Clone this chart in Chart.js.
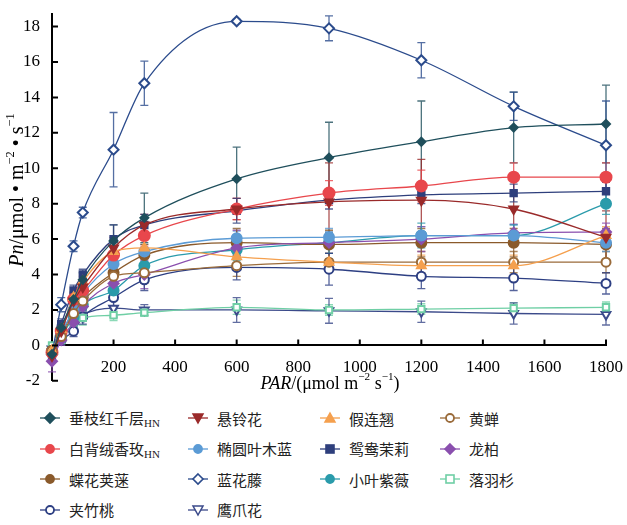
<!DOCTYPE html>
<html>
<head>
<meta charset="utf-8">
<script src="https://cdn.jsdelivr.net/npm/chart.js@4.4.0/dist/chart.umd.min.js"></script>
<style>
  body { margin: 0; background: #fff; width: 627px; height: 525px; overflow: hidden; position: relative; }
  #wrap { position: absolute; left: 0; top: 0; width: 627px; height: 395px; }
  #legend { position: absolute; left: 0; top: 403px; width: 627px; height: 122px; }
  .item { position: absolute; display: flex; align-items: center; height: 30px; font-size: 15px; color: #222; font-family: "Noto Sans CJK SC"; white-space: nowrap; }
  .item svg { margin-right: 9px; }
  .item sub { font-family: "Liberation Serif"; font-size: 11px; vertical-align: -3px; }
</style>
</head>
<body>
<div id="wrap"><canvas id="chart"></canvas></div>
<div id="legend"></div>
<script>
// PAR levels (x)
const par = [0, 30, 70, 100, 200, 300, 600, 900, 1200, 1500, 1800];
const yTicks = [-2, 0, 2, 4, 6, 8, 10, 12, 14, 16, 18];
const xTicks = [200, 400, 600, 800, 1000, 1200, 1400, 1600, 1800];

// Pn values and error bars per species
const chuizhi = [-0.5, 1.0, 2.6, 3.7, 5.9, 7.2, 9.4, 10.6, 11.5, 12.3, 12.5];
const chuizhiErr = [0.2, 0.3, 0.4, 0.4, 0.9, 1.4, 1.8, 2.0, 2.3, 2.0, 2.2];
const baibei = [-0.4, 0.8, 2.6, 3.1, 5.1, 6.2, 7.7, 8.6, 9.0, 9.5, 9.5];
const baibeiErr = [0.2, 0.3, 0.3, 0.4, 0.5, 0.6, 0.6, 0.7, 0.9, 0.8, 0.8];
const diehua = [-0.3, 0.6, 2.0, 2.7, 4.1, 5.1, 5.8, 5.7, 5.8, 5.8, 5.7];
const diehuaErr = [0.2, 0.3, 0.3, 0.3, 0.5, 0.6, 0.8, 0.8, 0.8, 0.8, 0.9];
const jiazhu = [-0.3, 0.3, 0.8, 1.6, 2.7, 3.7, 4.4, 4.3, 3.9, 3.8, 3.5];
const jiazhuErr = [0.2, 0.2, 0.3, 0.4, 0.6, 0.6, 0.7, 0.9, 0.7, 0.7, 0.6];
const xuanling = [-0.6, 0.8, 2.5, 3.3, 5.5, 6.8, 7.7, 8.1, 8.2, 7.7, 6.1];
const xuanlingErr = [0.3, 0.3, 0.4, 0.4, 0.6, 0.6, 0.6, 2.2, 2.3, 2.0, 1.5];
const tuoyuan = [-0.4, 0.7, 2.0, 2.9, 4.6, 5.3, 6.05, 6.1, 6.2, 6.2, 5.8];
const tuoyuanErr = [0.2, 0.2, 0.3, 0.3, 0.4, 0.4, 0.4, 0.5, 0.5, 0.6, 0.5];
const lanhua = [-0.5, 2.3, 5.6, 7.5, 11.05, 14.8, 18.3, 17.9, 16.1, 13.5, 11.3];
const lanhuaErr = [0.3, 0.4, 0.3, 0.3, 2.1, 1.25, 0.1, 0.7, 1.0, 0.8, 2.5];
const yingzhua = [-0.2, 0.4, 1.2, 1.7, 2.1, 2.0, 2.0, 1.95, 1.9, 1.8, 1.75];
const yingzhuaErr = [0.2, 0.2, 0.3, 0.3, 0.5, 0.3, 0.7, 0.7, 0.6, 0.6, 0.6];
const jialian = [-0.3, 0.9, 2.7, 3.6, 5.3, 5.5, 5.0, 4.7, 4.5, 4.5, 6.2];
const jialianErr = [0.2, 0.3, 0.3, 0.3, 0.5, 0.5, 0.5, 0.5, 0.6, 0.6, 0.5];
const yuanyang = [-0.5, 1.2, 3.1, 4.0, 6.0, 6.8, 7.6, 8.2, 8.5, 8.6, 8.7];
const yuanyangErr = [0.2, 0.3, 0.3, 0.3, 0.8, 0.6, 0.7, 0.5, 0.5, 0.5, 0.5];
const xiaoye = [-0.3, 0.5, 1.6, 2.3, 3.1, 4.5, 5.4, 5.8, 6.2, 6.2, 8.0];
const xiaoyeErr = [0.2, 0.2, 0.3, 0.3, 0.5, 0.5, 0.6, 0.6, 0.7, 0.6, 0.6];
const huangchan = [-0.3, 0.5, 1.8, 2.5, 3.9, 4.1, 4.5, 4.7, 4.7, 4.7, 4.7];
const huangchanErr = [0.2, 0.2, 0.3, 0.3, 0.5, 0.6, 0.6, 0.5, 0.6, 0.6, 0.6];
const longbai = [-0.9, 0.3, 1.3, 2.2, 3.5, 4.0, 5.5, 5.8, 6.0, 6.35, 6.4];
const longbaiErr = [0.6, 0.3, 0.3, 0.3, 0.5, 0.8, 1.0, 0.6, 0.7, 0.5, 0.5];
const luoyu = [0, 0.3, 1.3, 1.55, 1.7, 1.85, 2.15, 2.0, 2.05, 2.1, 2.15];
const luoyuErr = [0.1, 0.2, 0.3, 0.4, 0.3, 0.2, 0.4, 0.3, 0.3, 0.3, 0.3];

// legend order is row by row (4 columns)
const series = [
  { name: "垂枝红千层", sub: "HN", values: chuizhi, err: chuizhiErr, color: "#1f4f5c", shape: "diamond", r: 4, fill: true },
  { name: "悬铃花", values: xuanling, err: xuanlingErr, color: "#9a2a2a", shape: "down", r: 5, fill: true },
  { name: "假连翘", values: jialian, err: jialianErr, color: "#f5a04e", shape: "up", r: 5, fill: true },
  { name: "黄蝉", values: huangchan, err: huangchanErr, color: "#9a6b3a", shape: "circle", r: 4.5, fill: false },
  { name: "白背绒香玫", sub: "HN", values: baibei, err: baibeiErr, color: "#e8474c", shape: "circle", r: 5.5, fill: true },
  { name: "椭圆叶木蓝", values: tuoyuan, err: tuoyuanErr, color: "#5b9bd5", shape: "circle", r: 5, fill: true },
  { name: "鸳鸯茉莉", values: yuanyang, err: yuanyangErr, color: "#2e3f7c", shape: "square", r: 4.5, fill: true },
  { name: "龙柏", values: longbai, err: longbaiErr, color: "#8a4fae", shape: "diamond", r: 5, fill: true },
  { name: "蝶花荚蒾", values: diehua, err: diehuaErr, color: "#8a5a2b", shape: "circle", r: 5, fill: true },
  { name: "蓝花藤", values: lanhua, err: lanhuaErr, color: "#2b4b8c", shape: "diamond", r: 5, fill: false },
  { name: "小叶紫薇", values: xiaoye, err: xiaoyeErr, color: "#2a9bab", shape: "circle", r: 5, fill: true },
  { name: "落羽杉", values: luoyu, err: luoyuErr, color: "#6fcfa5", shape: "square", r: 4.5, fill: false },
  { name: "夹竹桃", values: jiazhu, err: jiazhuErr, color: "#2d3f83", shape: "circle", r: 4.5, fill: false },
  { name: "鹰爪花", values: yingzhua, err: yingzhuaErr, color: "#3b4a8a", shape: "down", r: 5, fill: false }
];

const styleMap = { circle: "circle", diamond: "rectRot", up: "triangle", down: "triangle", square: "rect" };

const datasets = series.map((s) => ({
  label: s.name,
  data: par.map((x, i) => ({ x: x, y: s.values[i] })),
  errors: s.err,
  borderColor: s.color,
  borderWidth: 1.3,
  cubicInterpolationMode: "monotone",
  pointStyle: styleMap[s.shape],
  rotation: s.shape === "down" ? 180 : 0,
  pointRadius: s.r,
  pointBackgroundColor: s.fill ? s.color : "#fff",
  pointBorderColor: s.color,
  pointBorderWidth: 2,
  clip: false
}));

// error bars, drawn under the markers
const errorBars = {
  id: "errorBars",
  beforeDatasetsDraw(chart) {
    const ctx = chart.ctx;
    const xs = chart.scales.x, ys = chart.scales.y;
    ctx.save();
    chart.data.datasets.forEach((ds) => {
      ctx.strokeStyle = ds.borderColor;
      ctx.globalAlpha = 0.8;
      ctx.lineWidth = 1.3;
      ds.data.forEach((p, i) => {
        const e = ds.errors[i];
        const px = xs.getPixelForValue(p.x);
        const top = ys.getPixelForValue(p.y + e);
        const bot = ys.getPixelForValue(p.y - e);
        ctx.beginPath();
        ctx.moveTo(px, top); ctx.lineTo(px, bot);
        ctx.moveTo(px - 4, top); ctx.lineTo(px + 4, top);
        ctx.moveTo(px - 4, bot); ctx.lineTo(px + 4, bot);
        ctx.stroke();
      });
    });
    ctx.restore();
  }
};

function drawRich(ctx, parts, cx, cy, size) {
  let total = 0;
  const segs = parts.map((p) => {
    const s = p.sup ? size * 0.62 : size;
    const font = (p.it ? "italic " : "") + s + 'px "Liberation Serif"';
    ctx.font = font;
    const w = ctx.measureText(p.t).width;
    total += w;
    return { p: p, font: font, w: w };
  });
  let x = cx - total / 2;
  segs.forEach((s) => {
    ctx.font = s.font;
    ctx.fillText(s.p.t, x, cy + (s.p.sup ? -size * 0.38 : 0));
    x += s.w;
  });
}

// inner tick marks and axis titles
const axisExtras = {
  id: "axisExtras",
  afterDraw(chart) {
    const ctx = chart.ctx;
    const xs = chart.scales.x, ys = chart.scales.y;
    const left = chart.chartArea.left;
    const y0 = ys.getPixelForValue(0);
    ctx.save();
    ctx.strokeStyle = "#000";
    ctx.lineWidth = 2;
    ctx.beginPath();
    yTicks.forEach((v) => {
      const py = ys.getPixelForValue(v);
      ctx.moveTo(left, py); ctx.lineTo(left + 6, py);
    });
    xTicks.forEach((v) => {
      const px = xs.getPixelForValue(v);
      ctx.moveTo(px, y0); ctx.lineTo(px, y0 - 6);
    });
    ctx.stroke();

    ctx.fillStyle = "#000";
    ctx.textBaseline = "middle";
    drawRich(ctx, [
      { t: "PAR", it: true }, { t: "/(μmol m" }, { t: "−2", sup: true },
      { t: " s" }, { t: "−1", sup: true }, { t: ")" }
    ], 330, 384, 18);

    ctx.translate(18, 190);
    ctx.rotate(-Math.PI / 2);
    drawRich(ctx, [
      { t: "Pn", it: true }, { t: "/μmol • m" }, { t: "−2", sup: true },
      { t: " • s" }, { t: "−1", sup: true }
    ], 0, 0, 20);
    ctx.restore();
  }
};

const configChart = {
  type: "line",
  data: { datasets: datasets },
  options: {
    responsive: true,
    maintainAspectRatio: false,
    animation: false,
    layout: { padding: { top: 7, right: 18, bottom: 13, left: 0 } },
    plugins: { legend: { display: false }, tooltip: { enabled: false } },
    scales: {
      x: {
        type: "linear",
        position: { y: 0 },
        min: 0,
        max: 1800,
        grid: { display: false },
        border: { display: true, color: "#000", width: 2 },
        afterBuildTicks: (scale) => {
          scale.ticks = xTicks.map((v) => ({ value: v }));
        },
        ticks: {
          color: "#000",
          padding: 4,
          maxRotation: 0,
          font: { family: "Liberation Serif", size: 17 },
          callback: (v) => String(v)
        }
      },
      y: {
        position: "left",
        min: -2,
        max: 18.7,
        grid: { display: false },
        border: { display: true, color: "#000", width: 2 },
        afterFit: (scale) => { scale.width = 52; },
        afterBuildTicks: (scale) => {
          scale.ticks = yTicks.map((v) => ({ value: v }));
        },
        ticks: {
          color: "#000",
          padding: 4,
          font: { family: "Liberation Serif", size: 17 },
          callback: (v) => (v < 0 ? "-" + Math.abs(v) : String(v))
        }
      }
    }
  },
  plugins: [errorBars, axisExtras]
};

const chart = new Chart(document.getElementById("chart"), configChart);

// html legend
const legendBox = document.getElementById("legend");
const colLeft = [40, 188, 320, 440];

function markerSvg(s) {
  const c = s.color, f = s.fill ? c : "#fff";
  let shape = "";
  if (s.shape === "circle") shape = `<circle cx="10" cy="8" r="4" fill="${f}" stroke="${c}" stroke-width="1.8"/>`;
  if (s.shape === "diamond") shape = `<polygon points="10,3 15,8 10,13 5,8" fill="${f}" stroke="${c}" stroke-width="1.6"/>`;
  if (s.shape === "up") shape = `<polygon points="10,3 15,12 5,12" fill="${f}" stroke="${c}" stroke-width="1.5"/>`;
  if (s.shape === "down") shape = `<polygon points="10,13 15,4 5,4" fill="${f}" stroke="${c}" stroke-width="1.5"/>`;
  if (s.shape === "square") shape = `<rect x="6" y="4" width="8" height="8" fill="${f}" stroke="${c}" stroke-width="1.6"/>`;
  return `<svg width="20" height="16"><line x1="0" y1="8" x2="20" y2="8" stroke="${c}" stroke-width="1.3"/>${shape}</svg>`;
}

series.forEach((s, i) => {
  const item = document.createElement("div");
  item.className = "item";
  item.style.left = colLeft[i % 4] + "px";
  item.style.top = Math.floor(i / 4) * 30.5 + "px";
  item.innerHTML = markerSvg(s) + "<span>" + s.name + (s.sub ? "<sub>" + s.sub + "</sub>" : "") + "</span>";
  legendBox.appendChild(item);
});
</script>
</body>
</html>
